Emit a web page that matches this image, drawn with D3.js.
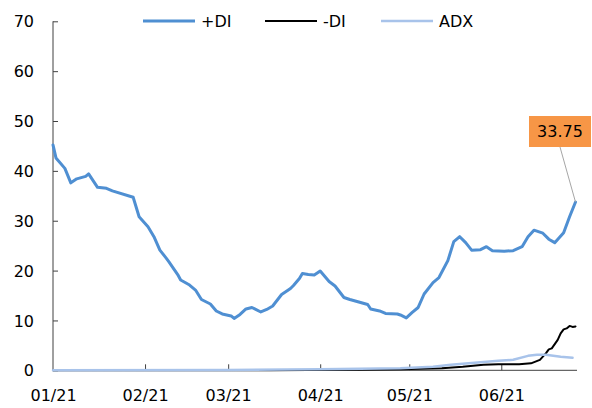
<!DOCTYPE html>
<html>
<head>
<meta charset="utf-8">
<script src="https://cdn.jsdelivr.net/npm/d3@7"></script>
<style>
  html, body { margin: 0; padding: 0; background: #fff; }
  svg { display: block; font-family: "DejaVu Sans", Verdana, sans-serif; }
</style>
</head>
<body>
<svg id="chart" width="592" height="408"></svg>
<script>
// ---- data ----
const seriesNames = ["+DI", "-DI", "ADX"];
const yTicks = [0, 10, 20, 30, 40, 50, 60, 70];
const xTickDates = ["2021-01-01", "2021-02-01", "2021-03-01", "2021-04-01", "2021-05-01", "2021-06-01"];

const plusDates = ["2021-01-01","2021-01-02","2021-01-05","2021-01-07","2021-01-09","2021-01-12","2021-01-13","2021-01-16","2021-01-19","2021-01-21","2021-01-28","2021-01-30","2021-02-02","2021-02-04","2021-02-06","2021-02-08","2021-02-09","2021-02-12","2021-02-13","2021-02-16","2021-02-18","2021-02-20","2021-02-23","2021-02-25","2021-02-27","2021-03-02","2021-03-03","2021-03-05","2021-03-07","2021-03-09","2021-03-12","2021-03-14","2021-03-16","2021-03-19","2021-03-22","2021-03-23","2021-03-25","2021-03-26","2021-03-28","2021-03-30","2021-04-01","2021-04-02","2021-04-04","2021-04-06","2021-04-09","2021-04-11","2021-04-14","2021-04-17","2021-04-18","2021-04-21","2021-04-23","2021-04-27","2021-04-28","2021-04-30","2021-05-02","2021-05-04","2021-05-06","2021-05-09","2021-05-11","2021-05-14","2021-05-16","2021-05-18","2021-05-20","2021-05-22","2021-05-25","2021-05-27","2021-05-29","2021-06-02","2021-06-05","2021-06-08","2021-06-10","2021-06-12","2021-06-15","2021-06-17","2021-06-19","2021-06-22","2021-06-24","2021-06-26"];
const plusValues = [45.2,42.6,40.5,37.6,38.4,38.9,39.4,36.7,36.5,36.0,34.7,30.8,28.8,26.8,24.1,22.6,21.8,19.2,18.1,17.1,16.1,14.2,13.3,11.9,11.3,10.9,10.4,11.2,12.3,12.6,11.7,12.2,12.9,15.2,16.4,17.0,18.4,19.4,19.2,19.1,19.9,19.2,17.8,16.9,14.6,14.2,13.7,13.2,12.3,11.9,11.4,11.3,11.1,10.5,11.6,12.6,15.3,17.6,18.6,22.0,25.8,26.8,25.6,24.1,24.2,24.8,24.0,23.9,24.0,24.8,26.8,28.1,27.5,26.3,25.6,27.6,30.8,33.75];

const minusDates = ["2021-01-01","2021-03-15","2021-04-10","2021-04-28","2021-05-12","2021-05-19","2021-05-26","2021-05-31","2021-06-07","2021-06-11","2021-06-14","2021-06-16","2021-06-17","2021-06-18","2021-06-20","2021-06-21","2021-06-22","2021-06-23","2021-06-24","2021-06-25","2021-06-26"];
const minusValues = [0,0,0.1,0.2,0.4,0.7,1.1,1.2,1.2,1.4,2.1,3.4,4.2,4.4,6.1,7.4,8.2,8.4,8.9,8.7,8.8];

const adxDates = ["2021-01-01","2021-03-01","2021-04-01","2021-04-28","2021-05-09","2021-05-15","2021-05-23","2021-05-31","2021-06-05","2021-06-10","2021-06-13","2021-06-16","2021-06-21","2021-06-25"];
const adxValues = [0,0.05,0.2,0.4,0.7,1.1,1.5,1.9,2.1,2.9,3.1,3.1,2.7,2.5];

// ---- drawing ----
const parse = d3.utcParse("%Y-%m-%d");
const svg = d3.select("#chart");
svg.append("rect").attr("width", 592).attr("height", 408).attr("fill", "#fff");

const x = d3.scaleUtc()
  .domain([parse("2021-01-01"), new Date(Date.UTC(2021, 5, 26, 12))])
  .range([53, 577]);
const y = d3.scaleLinear().domain([0, 70]).range([370.3, 21.3]);

const axisColor = "#404040";

// Y axis
const yAxis = svg.append("g").attr("transform", "translate(53,0)")
  .call(d3.axisRight(y).tickValues(yTicks).tickSize(5).tickFormat(d3.format("d")));
yAxis.select(".domain").remove();
yAxis.selectAll(".tick line").attr("stroke", axisColor);
yAxis.selectAll(".tick text").attr("x", -19).attr("text-anchor", "end")
  .attr("font-size", 16).attr("font-family", "DejaVu Sans").attr("fill", "#000").attr("dy", "0.35em");
svg.append("line").attr("x1", 53).attr("x2", 53).attr("y1", y(70)).attr("y2", y(0))
  .attr("stroke", axisColor).attr("stroke-width", 1);

// X axis
const xAxis = svg.append("g").attr("transform", `translate(0,${y(0)})`)
  .call(d3.axisBottom(x).tickValues(xTickDates.map(parse)).tickSize(0).tickFormat(d3.utcFormat("%m/%y")));
xAxis.select(".domain").remove();
xAxis.selectAll(".tick text").attr("y", 25).attr("dy", "0.35em")
  .attr("font-size", 16).attr("font-family", "DejaVu Sans").attr("fill", "#000");
xAxis.selectAll(".tick").filter((d, i) => i > 0).append("line")
  .attr("y1", 0).attr("y2", -6).attr("stroke", axisColor);
svg.append("line").attr("x1", 53).attr("x2", 577).attr("y1", y(0)).attr("y2", y(0))
  .attr("stroke", axisColor).attr("stroke-width", 1);

// Series (drawn over the axes)
const colors = ["#4f8fd2", "#000000", "#a8c3ea"];
const widths = [3, 2, 2.5];
const series = [
  plusDates.map((d, i) => [parse(d), plusValues[i]]),
  minusDates.map((d, i) => [parse(d), minusValues[i]]),
  adxDates.map((d, i) => [parse(d), adxValues[i]])
];
const line = d3.line().x(d => x(d[0])).y(d => y(d[1]));
[1, 2, 0].forEach(k => {
  svg.append("path").datum(series[k]).attr("d", line)
    .attr("fill", "none").attr("stroke", colors[k]).attr("stroke-width", widths[k])
    .attr("stroke-linejoin", "round").attr("stroke-linecap", "round");
});

// Legend
const legendX = [143, 265, 381];
seriesNames.forEach((n, i) => {
  svg.append("line").attr("x1", legendX[i]).attr("x2", legendX[i] + 52)
    .attr("y1", 21).attr("y2", 21).attr("stroke", colors[i]).attr("stroke-width", widths[i]);
  svg.append("text").attr("x", legendX[i] + 58).attr("y", 21).attr("dy", "0.35em")
    .attr("font-size", 16).attr("fill", "#000").text(n);
});

// Callout of last +DI value
const last = series[0][series[0].length - 1];
const bx = 529, by = 116, bw = 62, bh = 31;
svg.append("line").attr("x1", bx + bw / 2).attr("y1", by + bh)
  .attr("x2", x(last[0])).attr("y2", y(last[1]))
  .attr("stroke", "#a6a6a6").attr("stroke-width", 1);
svg.append("rect").attr("x", bx).attr("y", by).attr("width", bw).attr("height", bh).attr("fill", "#f79646");
svg.append("text").attr("x", bx + bw / 2).attr("y", by + bh / 2).attr("dy", "0.35em")
  .attr("text-anchor", "middle").attr("font-size", 16).attr("fill", "#000").text(last[1].toFixed(2));
</script>
</body>
</html>
